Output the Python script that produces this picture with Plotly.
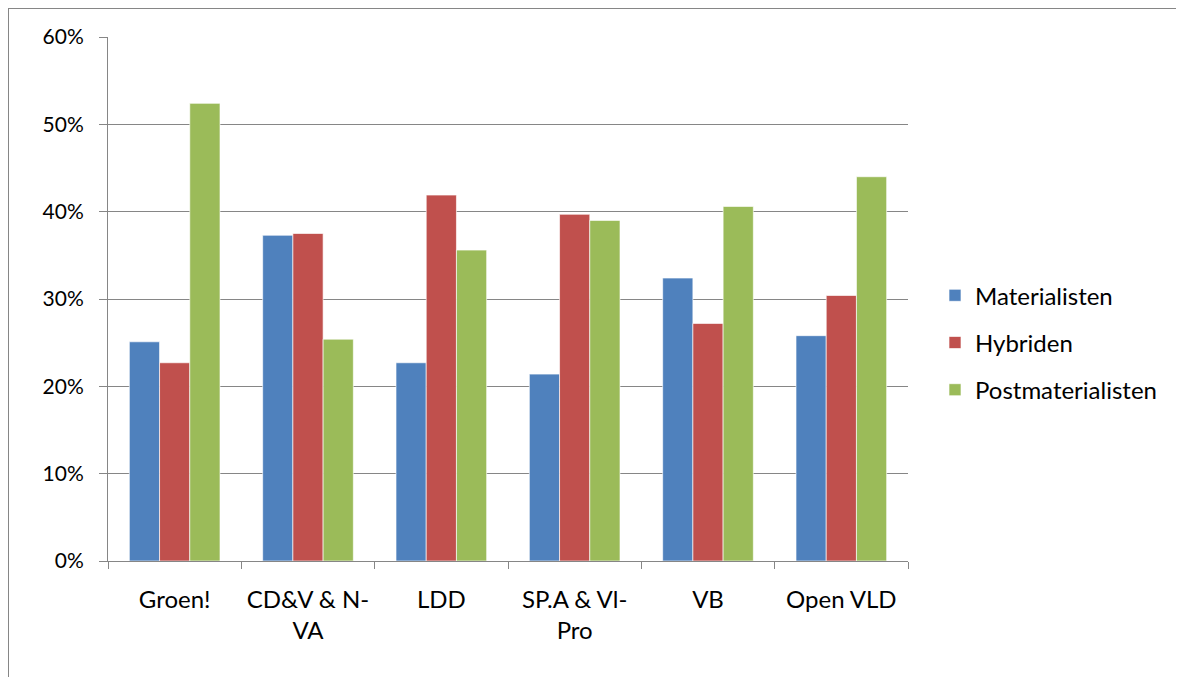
import plotly.graph_objects as go

categories = ["Groen!", "CD&V & N-<br>VA", "LDD", "SP.A & Vl-<br>Pro", "VB", "Open VLD"]
materialisten = [0.251, 0.373, 0.227, 0.214, 0.324, 0.258]
hybriden = [0.227, 0.375, 0.419, 0.397, 0.272, 0.304]
postmaterialisten = [0.524, 0.254, 0.356, 0.390, 0.406, 0.440]
series_names = ["Materialisten", "Hybriden", "Postmaterialisten"]
colors = ["#4F81BD", "#C0504D", "#9BBB59"]
y_ticks = [0, 0.1, 0.2, 0.3, 0.4, 0.5, 0.6]

OFF = 8  # page offset of the figure
W, H = 1184 - OFF, 677 - OFF
L, R, T, B = 108 - OFF, 276, 37 - OFF, 115.5
FONT = "Lato"

fig = go.Figure()
for name, vals, col in zip(series_names, [materialisten, hybriden, postmaterialisten], colors):
    fig.add_trace(go.Bar(
        x=categories, y=vals, name=name, legendgroup=name,
        marker=dict(color=col, line=dict(color="rgba(255,255,255,0.8)", width=0.8)),
    ))

pw = W - L - R
ph = H - T - B
def px_x(p):
    return (p - OFF - L) / pw
def px_y(p):
    return (H - B - (p - OFF)) / ph

fig.update_layout(
    width=W, height=H,
    margin=dict(l=L, r=R, t=T, b=B, pad=0),
    paper_bgcolor="white", plot_bgcolor="white",
    font=dict(family=FONT, size=24, color="#000000"),
    barmode="group", bargap=0.32, bargroupgap=0,
    showlegend=True,
    legend=dict(x=px_x(935), y=px_y(343), xanchor="left", yanchor="middle",
                font=dict(family=FONT, size=24), tracegroupgap=13,
                itemwidth=30, bgcolor="rgba(0,0,0,0)"),
    xaxis=dict(showgrid=False, showline=True, linecolor="#868686", linewidth=1,
               ticks="outside", ticklen=7, tickcolor="#868686", tickson="boundaries",
               ticklabelstandoff=17, tickfont=dict(family=FONT, size=24)),
    yaxis=dict(range=[0, 0.6], tickvals=y_ticks, tickformat=".0%",
               showgrid=True, gridcolor="#868686", gridwidth=1.2,
               showline=True, linecolor="#868686", linewidth=1,
               ticks="outside", ticklen=8, tickcolor="#868686",
               ticklabelstandoff=11, zeroline=False, tickfont=dict(family=FONT, size=21)),
    shapes=[
        dict(type="line", xref="paper", yref="paper", x0=px_x(8), x1=px_x(1200),
             y0=px_y(8), y1=px_y(8), line=dict(color="#868686", width=2)),
        dict(type="line", xref="paper", yref="paper", x0=px_x(8), x1=px_x(8),
             y0=px_y(8), y1=px_y(700), line=dict(color="#868686", width=2)),
    ],
)

fig.write_html("out.html")
